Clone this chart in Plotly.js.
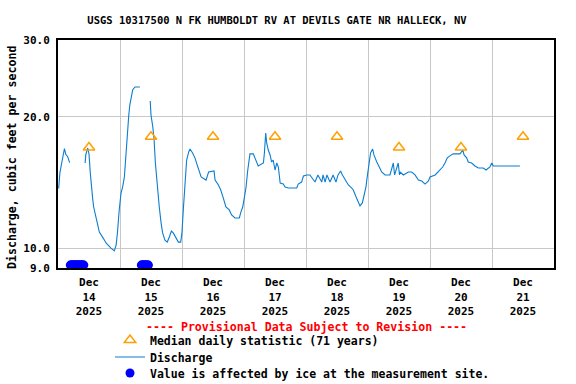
<!DOCTYPE html>
<html>
<head>
<meta charset="utf-8">
<script src="https://cdn.plot.ly/plotly-3.0.1.min.js"></script>
<style>html,body{margin:0;padding:0;background:#fff;}#chart{width:576px;height:384px;}</style>
</head>
<body>
<div id="chart"></div>
<script>
// Hours after 2025-12-14 00:00 (null = gap in record)
const flowHours = [
  0.25, 0.75, 1.5, 2.0, 2.5, 3.0, 3.75, 4.5, 7,
  10.5, 10.75, 11.5, 12.0, 12.5, 12.9, 13.4, 13.8, 14.4, 15.2, 16.0, 16.9, 17.5, 18.6, 19.6, 20.5, 21.8,
  22.5, 23.0, 23.3, 23.7, 24.4, 25.0, 25.7, 26.1, 26.6, 27.0, 27.4, 27.8, 28.3, 28.9, 29.8, 31.7, 33,
  35.7, 36.0, 36.7, 37.2, 37.7, 38.2, 38.7, 39.2, 39.9, 40.5, 41.4, 42.3, 43.1, 43.9, 44.6, 45.6, 46.6,
  47.5, 48.0, 48.5, 49.3, 49.8, 50.6, 51.1, 52.1, 53.0, 53.9, 54.7, 55.4, 57.3, 58.3, 60.4, 60.8, 62.1,
  63.0, 64.0, 65.0, 66.3, 67.2, 68.5, 70.2, 70.7, 71.5, 72.1, 72.8, 73.4, 73.9, 74.3, 75.6, 76.3, 76.9,
  77.5, 79.5, 79.9, 80.4, 80.8, 81.4, 82.1, 82.7, 83.3, 84.0, 84.7, 85.3, 86.0, 87.2, 87.9, 89.2, 92.4,
  93.0, 94.3, 95.0, 96.3, 97.5, 99.5, 100.6, 102.1, 102.6, 103.4, 104.1, 105.3, 106.5, 107.6, 108.4,
  109.4, 110.1, 111.1, 112.4, 113.7, 114.3, 115.4, 116.2, 116.9, 117.8, 118.5, 119.2, 119.7, 120.4,
  121.0, 121.8, 122.3, 123.4, 124.4, 125.3, 126.6, 128.5, 129.8, 130.3, 131.7, 132.2, 132.4, 133.7,
  135.6, 136.9, 138.2, 139.5, 140.8, 142.1, 143.4, 144.0, 146.0, 147.2, 148.9, 149.8, 150.7, 151.7,
  153.0, 155.6, 156.7, 157.2, 158.2, 158.8, 160.1, 161.4, 162.7, 164.6, 165.7, 167.2, 167.9, 168.5,
  171.1, 173.0, 175.0, 176.9, 178.8
];
const flowCfs = [
  13.7, 14.9, 15.75, 16.5, 16.9, 16.4, 16.2, 15.7, null,
  15.67, 16.35, 16.96, 16.44, 14.86, 13.73, 13.02, 12.42, 11.91, 11.42, 10.88, 10.71, 10.54, 10.27, 10.11, 10.0, 9.85,
  10.16, 10.83, 11.48, 12.23, 13.37, 13.8, 14.56, 15.92, 17.41, 18.36, 20.19, 21.28, 22.09, 23.04, 23.41, 23.41, null,
  21.74, 20.19, 18.95, 17.69, 15.67, 14.32, 13.37, 12.42, 11.42, 10.83, 10.43, 10.32, 10.6, 10.94, 10.83, 10.54, 10.32,
  10.32, 10.88, 12.23, 14.1, 15.92, 16.61, 16.87, 16.52, 16.1, 15.5, 14.94, 14.56, 14.32, 14.94, 15.02, 14.32, 13.95,
  13.59, 13.02, 12.42, 12.23, 11.91, 11.72, 11.72, 12.04, 12.42, 13.02, 13.8, 15.0, 16.0, 16.44, 16.44, 16.1, 15.75,
  15.42, 15.67, 16.52, 18.36, 17.41, 16.78, 16.35, 15.75, 15.92, 15.1, 15.67, 15.34, 14.1, 14.02, 13.8, 13.73, 13.73,
  14.02, 14.17, 14.63, 14.71, 14.71, 14.17, 14.71, 14.17, 14.71, 14.17, 14.71, 14.17, 14.71, 14.17, 14.71,
  15.02, 14.71, 14.32, 13.95, 13.73, 13.59, 13.09, 12.75, 12.49, 12.69, 13.23, 13.8, 14.56, 15.67,
  16.52, 16.87, 16.35, 15.75, 15.34, 14.94, 14.71, 14.71, 15.67, 14.71, 15.67, 14.71, 14.94, 14.71,
  14.94, 14.94, 14.71, 14.32, 14.25, 14.02, 14.25, 14.56, 14.71, 14.94, 15.34, 15.67, 16.1, 16.27,
  16.44, 16.44, 16.78, 16.35, 16.1, 15.75, 15.67, 15.42, 15.26, 15.26, 15.1, 15.34, 15.67, 15.42,
  15.42, 15.42, 15.42, 15.42, 15.42
];
// Ice-affected values (hours after 2025-12-14 00:00)
const iceHours = [
  4.75, 5.0, 5.25, 5.5, 5.75, 6.0, 6.25, 6.5, 6.75, 7.0, 7.25, 7.5, 7.75, 8.0, 8.25, 8.5, 8.75, 9.0, 9.25, 9.5, 9.75, 10.0,
  32.25, 32.5, 32.75, 33.0, 33.25, 33.5, 33.75, 34.0, 34.25, 34.5, 34.75, 35.0
];
const iceCfs = [
  9.14, 9.14, 9.14, 9.14, 9.14, 9.14, 9.14, 9.14, 9.14, 9.14, 9.14, 9.14, 9.14, 9.14, 9.14, 9.14, 9.14, 9.14, 9.14, 9.14, 9.14, 9.14,
  9.14, 9.14, 9.14, 9.14, 9.14, 9.14, 9.14, 9.14, 9.14, 9.14, 9.14, 9.14
];
const medianDates = ['2025-12-14 12:00','2025-12-15 12:00','2025-12-16 12:00','2025-12-17 12:00',
                     '2025-12-18 12:00','2025-12-19 12:00','2025-12-20 12:00','2025-12-21 12:00'];
const medianCfs = [17, 18, 18, 18, 18, 17, 17, 18];
const xTickLabels = ['Dec<br>14<br>2025','Dec<br>15<br>2025','Dec<br>16<br>2025','Dec<br>17<br>2025',
                     'Dec<br>18<br>2025','Dec<br>19<br>2025','Dec<br>20<br>2025','Dec<br>21<br>2025'];
const dayBoundaries = ['2025-12-15 00:00','2025-12-16 00:00','2025-12-17 00:00','2025-12-18 00:00',
                       '2025-12-19 00:00','2025-12-20 00:00','2025-12-21 00:00'];
const yTickVals = [9, 10, 20, 30];
const yTickText = ['9.0', '10.0', '20.0', '30.0'];

const base = Date.UTC(2025, 11, 14);
function toDate(h) {
  return new Date(base + h * 3600000).toISOString().slice(0, 19).replace('T', ' ');
}

const FONT = 'DejaVu Sans Mono, monospace';
const LEGFONT = {family: FONT, size: 11.5, color: '#000', weight: 'bold'};
const legX = (110 - 58) / 496;
function legendAt(py) {
  return {x: legX, xanchor: 'left', y: (268 - py) / 228, yanchor: 'middle',
          bgcolor: 'rgba(0,0,0,0)', font: LEGFONT, itemsizing: 'trace'};
}

const traces = [
  {
    x: flowHours.map(toDate), y: flowCfs, type: 'scatter', mode: 'lines',
    name: 'Discharge', connectgaps: false, legend: 'legend2',
    line: {color: '#0a7dd0', width: 1.1}
  },
  {
    x: iceHours.map(toDate), y: iceCfs, type: 'scatter', mode: 'markers',
    name: 'Value is affected by ice at the measurement site.', legend: 'legend3', cliponaxis: false,
    marker: {color: '#0000ff', size: 9, symbol: 'circle'}
  },
  {
    x: medianDates, y: medianCfs, type: 'scatter', mode: 'markers',
    name: 'Median daily statistic (71 years)', legend: 'legend',
    marker: {color: '#ffa000', size: 10, symbol: 'triangle-up-open', line: {width: 1.5}}
  }
];

const layout = {
  width: 576, height: 384,
  margin: {l: 58, r: 22, t: 40, b: 116, autoexpand: false},
  paper_bgcolor: '#ffffff', plot_bgcolor: '#ffffff',
  font: {family: FONT, size: 11, color: '#000', weight: 'bold'},
  title: {
    text: 'USGS 10317500 N FK HUMBOLDT RV AT DEVILS GATE NR HALLECK, NV',
    font: {family: FONT, size: 10.5, color: '#000', weight: 'bold'},
    x: 277 / 576, xref: 'container', xanchor: 'center',
    y: 1 - 20 / 384, yref: 'container', yanchor: 'middle'
  },
  xaxis: {
    type: 'date',
    range: ['2025-12-14 00:00', '2025-12-22 00:00'],
    tickmode: 'array', tickvals: medianDates, ticktext: xTickLabels,
    showgrid: false, ticks: '', ticklabelstandoff: 3,
    minor: {tickmode: 'array', tickvals: dayBoundaries, showgrid: true, gridcolor: '#c8c8c8', gridwidth: 1, ticks: ''},
    showline: true, mirror: true, linecolor: '#000', linewidth: 2,
    zeroline: false, fixedrange: true, automargin: false,
    tickfont: {family: FONT, size: 11, color: '#000', weight: 'bold'}
  },
  yaxis: {
    type: 'log',
    range: [Math.log10(9), Math.log10(30)],
    tickmode: 'array', tickvals: yTickVals, ticktext: yTickText,
    showgrid: true, gridcolor: '#c8c8c8', gridwidth: 1,
    showline: true, mirror: true, linecolor: '#000', linewidth: 2,
    ticks: '', ticklabelstandoff: 4,
    zeroline: false, fixedrange: true, automargin: false,
    tickfont: {family: FONT, size: 11, color: '#000', weight: 'bold'}
  },
  showlegend: true,
  legend: legendAt(340),
  legend2: legendAt(357),
  legend3: legendAt(373),
  annotations: [
    {
      text: '---- Provisional Data Subject to Revision ----',
      xref: 'paper', yref: 'paper', x: 306 / 496 - 58 / 496, y: (268 - 327) / 228,
      xanchor: 'center', yanchor: 'middle', showarrow: false,
      font: {family: FONT, size: 11.6, color: '#ff0000', weight: 'bold'}
    },
    {
      text: 'Discharge, cubic feet per second',
      xref: 'paper', yref: 'paper', x: (12 - 58) / 496, y: (268 - 158) / 228,
      xanchor: 'center', yanchor: 'middle', showarrow: false, textangle: -90,
      font: {family: FONT, size: 11.6, color: '#000', weight: 'bold'}
    }
  ]
};

Plotly.newPlot('chart', traces, layout, {staticPlot: true, displayModeBar: false});
</script>
</body>
</html>
